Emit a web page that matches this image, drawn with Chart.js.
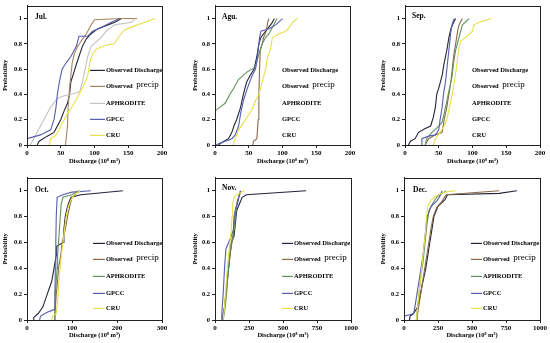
<!DOCTYPE html>
<html>
<head>
<meta charset="utf-8">
<script src="https://cdn.jsdelivr.net/npm/chart.js@4.4.1/dist/chart.umd.min.js"></script>
<style>
html,body{margin:0;padding:0;background:#fff;}
body{width:550px;height:343px;position:relative;overflow:hidden;}
.p{position:absolute;}
</style>
</head>
<body>
<div class="p" style="left:0;top:0;width:170px;height:170px"><canvas id="c1" width="170" height="170"></canvas></div>
<div class="p" style="left:183px;top:0;width:177px;height:170px"><canvas id="c2" width="177" height="170"></canvas></div>
<div class="p" style="left:368px;top:0;width:182px;height:170px"><canvas id="c3" width="182" height="170"></canvas></div>
<div class="p" style="left:0;top:172px;width:170px;height:171px"><canvas id="c4" width="170" height="171"></canvas></div>
<div class="p" style="left:183px;top:172px;width:178px;height:171px"><canvas id="c5" width="178" height="171"></canvas></div>
<div class="p" style="left:368px;top:172px;width:182px;height:171px"><canvas id="c6" width="182" height="171"></canvas></div>
<script>
// ---- Data: [discharge, cumulative probability] ----
const SERIES_NAMES = ["Observed Discharge", "Observed precip", "APHRODITE", "GPCC", "CRU"];
const MONTHS = ["Jul.", "Agu.", "Sep.", "Oct.", "Nov.", "Dec."];
const X_TITLE = "Discharge (10\u2078 m\u00B3)";
const Y_TITLE = "Probability";
const Y_TICKS = [0, 0.2, 0.4, 0.6, 0.8, 1];
const X_MAX = [200, 200, 200, 300, 1000, 1000];
const X_STEP = [50, 50, 50, 100, 250, 250];

const julDischarge = [[15,0],[18,0.03],[30,0.07],[40,0.1],[45,0.15],[50,0.2],[55,0.27],[60,0.33],[63,0.4],[65,0.5],[68,0.55],[72,0.62],[77,0.7],[82,0.78],[88,0.84],[95,0.88],[105,0.92],[120,0.95],[130,0.97],[140,1]];
const julPrecip = [[57,0],[58,0.05],[60,0.15],[61,0.3],[63,0.45],[65,0.55],[67,0.65],[70,0.72],[75,0.78],[80,0.82],[88,0.88],[95,0.95],[100,0.99],[140,1],[163,1]];
const julAphro = [[5,0],[15,0.1],[25,0.2],[35,0.3],[45,0.37],[55,0.39],[65,0.4],[78,0.42],[82,0.5],[86,0.6],[90,0.7],[95,0.78],[110,0.85],[117,0.9],[130,0.95],[155,0.97],[160,1]];
const julGpcc = [[0,0.05],[20,0.08],[35,0.12],[40,0.2],[43,0.3],[45,0.4],[48,0.5],[52,0.6],[58,0.65],[65,0.7],[73,0.78],[77,0.86],[90,0.86],[97,0.9],[110,0.93],[125,0.97],[138,1]];
const julCru = [[33,0],[35,0.05],[43,0.08],[50,0.15],[60,0.25],[70,0.33],[77,0.4],[85,0.48],[90,0.55],[93,0.65],[97,0.72],[103,0.76],[118,0.79],[129,0.8],[138,0.87],[145,0.91],[158,0.94],[175,0.97],[190,1]];

const augDischarge = [[5,0],[10,0.02],[20,0.05],[25,0.1],[28,0.15],[32,0.2],[38,0.3],[42,0.4],[47,0.5],[52,0.55],[58,0.6],[62,0.7],[65,0.8],[68,0.85],[72,0.88],[78,0.92],[85,0.97],[88,1]];
const augPrecip = [[56,0],[57,0.03],[62,0.05],[64,0.2],[65,0.4],[66,0.6],[67,0.75],[70,0.8],[72,0.85],[76,0.9],[78,0.97],[80,1]];
const augAphro = [[0,0],[0,0.27],[5,0.29],[15,0.33],[22,0.4],[28,0.45],[35,0.52],[42,0.55],[48,0.58],[55,0.6],[60,0.62],[65,0.72],[70,0.8],[75,0.85],[80,0.88],[87,0.95],[92,1]];
const augGpcc = [[0,0],[15,0.03],[25,0.05],[30,0.08],[35,0.15],[38,0.25],[42,0.35],[48,0.45],[55,0.55],[60,0.6],[63,0.7],[66,0.85],[68,0.9],[80,0.92],[90,0.95],[100,1]];
const augCru = [[27,0],[30,0.05],[35,0.12],[45,0.2],[55,0.28],[60,0.35],[65,0.4],[70,0.5],[75,0.6],[78,0.7],[82,0.75],[85,0.85],[95,0.88],[105,0.9],[110,0.93],[115,0.97],[122,1]];

const sepDischarge = [[5,0],[8,0.03],[15,0.05],[20,0.1],[30,0.13],[38,0.15],[42,0.22],[45,0.3],[47,0.4],[50,0.45],[55,0.55],[58,0.65],[62,0.75],[65,0.85],[68,0.92],[72,0.97],[75,1]];
const sepPrecip = [[30,0],[35,0.05],[45,0.08],[55,0.1],[58,0.2],[62,0.3],[65,0.4],[68,0.5],[70,0.6],[72,0.7],[75,0.8],[78,0.9],[80,0.95],[85,1]];
const sepAphro = [[30,0],[32,0.05],[40,0.1],[50,0.15],[55,0.18],[58,0.25],[62,0.35],[66,0.45],[70,0.55],[72,0.65],[75,0.75],[80,0.85],[85,0.95],[95,1]];
const sepGpcc = [[25,0],[25,0.05],[35,0.07],[45,0.08],[50,0.12],[52,0.2],[55,0.3],[57,0.4],[60,0.5],[62,0.6],[64,0.7],[66,0.8],[68,0.9],[70,0.96],[73,1]];
const sepCru = [[42,0],[45,0.05],[52,0.1],[58,0.15],[62,0.2],[66,0.3],[70,0.4],[73,0.5],[76,0.6],[78,0.7],[82,0.82],[90,0.85],[100,0.9],[102,0.95],[110,0.97],[128,1]];

const octDischarge = [[15,0],[15,0.02],[25,0.05],[35,0.1],[40,0.15],[45,0.2],[50,0.25],[55,0.3],[60,0.4],[65,0.5],[66,0.57],[80,0.6],[82,0.7],[85,0.8],[88,0.85],[92,0.9],[98,0.95],[120,0.97],[213,1]];
const octPrecip = [[60,0],[62,0.05],[63,0.1],[65,0.2],[68,0.3],[70,0.4],[75,0.5],[78,0.6],[85,0.7],[90,0.8],[95,0.88],[100,0.95],[110,0.98],[118,1]];
const octAphro = [[60,0],[62,0.1],[63,0.2],[65,0.3],[67,0.4],[68,0.5],[70,0.6],[72,0.7],[74,0.8],[76,0.9],[80,0.95],[100,0.97],[115,1]];
const octGpcc = [[28,0],[30,0.03],[45,0.06],[60,0.08],[62,0.2],[63,0.4],[64,0.6],[65,0.8],[67,0.95],[80,0.97],[100,0.99],[142,1]];
const octCru = [[55,0],[57,0.03],[65,0.05],[68,0.15],[70,0.25],[72,0.35],[75,0.45],[78,0.55],[82,0.65],[85,0.75],[88,0.82],[92,0.88],[98,0.93],[105,0.97],[118,1]];

const novDischarge = [[55,0],[60,0.05],[70,0.1],[80,0.2],[90,0.3],[100,0.4],[110,0.5],[120,0.6],[140,0.65],[150,0.75],[160,0.85],[180,0.9],[200,0.95],[230,0.97],[670,1]];
const novPrecip = [[60,0],[70,0.1],[80,0.2],[95,0.35],[110,0.5],[125,0.6],[135,0.65],[140,0.75],[150,0.85],[165,0.92],[180,0.97],[190,1]];
const novAphro = [[60,0],[75,0.1],[85,0.2],[95,0.35],[105,0.5],[120,0.6],[130,0.65],[140,0.7],[150,0.8],[160,0.9],[175,0.95],[185,1]];
const novGpcc = [[45,0],[50,0.05],[60,0.2],[70,0.4],[80,0.55],[100,0.6],[120,0.65],[135,0.7],[140,0.8],[150,0.85],[165,0.9],[175,0.95],[190,1]];
const novCru = [[60,0],[70,0.1],[80,0.25],[90,0.4],[100,0.5],[110,0.6],[120,0.7],[125,0.8],[130,0.9],[140,0.95],[160,0.97],[215,1]];

const decDischarge = [[40,0],[45,0.03],[70,0.05],[100,0.1],[120,0.2],[140,0.3],[160,0.4],[175,0.5],[190,0.6],[205,0.7],[220,0.8],[250,0.88],[300,0.93],[320,0.97],[700,0.98],[830,1]];
const decPrecip = [[95,0],[100,0.05],[115,0.15],[130,0.25],[145,0.35],[160,0.45],[175,0.55],[190,0.65],[200,0.72],[215,0.8],[240,0.87],[280,0.92],[310,0.97],[700,1]];
const decAphro = [[90,0],[95,0.05],[105,0.15],[115,0.25],[125,0.35],[140,0.45],[150,0.55],[160,0.65],[170,0.75],[185,0.85],[210,0.9],[240,0.95],[280,0.98],[310,1]];
const decGpcc = [[0,0.03],[40,0.04],[70,0.05],[80,0.1],[95,0.2],[110,0.3],[125,0.4],[140,0.5],[150,0.6],[160,0.7],[170,0.8],[200,0.88],[240,0.92],[260,0.95],[280,1]];
const decCru = [[90,0],[100,0.1],[110,0.2],[120,0.3],[130,0.4],[140,0.5],[150,0.6],[160,0.7],[165,0.8],[175,0.88],[200,0.93],[250,0.97],[300,0.99],[380,1]];

const PANEL_DATA = [
  [julDischarge, julPrecip, julAphro, julGpcc, julCru],
  [augDischarge, augPrecip, augAphro, augGpcc, augCru],
  [sepDischarge, sepPrecip, sepAphro, sepGpcc, sepCru],
  [octDischarge, octPrecip, octAphro, octGpcc, octCru],
  [novDischarge, novPrecip, novAphro, novGpcc, novCru],
  [decDischarge, decPrecip, decAphro, decGpcc, decCru]
];

// ---- Styles ----
const COLORS_DEFAULT = ["#23263a", "#8a6a48", "#5f9460", "#5a5db0", "#e6e04a"];
const COLORS_JUL = ["#23263a", "#a8855f", "#c4c4c4", "#5a5db0", "#e6e04a"];
const SERIF = "'Liberation Serif','Times New Roman',serif";

const LAYOUT = [
  {id:"c1", yw:27, pr:8, pt:4, xh:25, ytp:1, xtp:5, legX:79, lineX:[63,78], legRows:[64,80,97,113,129], label:[8,11]},
  {id:"c2", yw:32, pr:10, pt:4, xh:25, ytp:8, xtp:5, legX:67, lineX:null, legRows:[64,80,97,113,129], label:[7,11]},
  {id:"c3", yw:37, pr:10, pt:4, xh:25, ytp:11, xtp:5, legX:67, lineX:null, legRows:[64,80,97,113,129], label:[7,10]},
  {id:"c4", yw:27, pr:8, pt:5, xh:23, ytp:1, xtp:4, legX:79, lineX:[66,78], legRows:[65,81,98,115,130], label:[8,12]},
  {id:"c5", yw:32, pr:10, pt:5, xh:23, ytp:8, xtp:4, legX:79, lineX:[67,78], legRows:[65,81,98,115,130], label:[7,10]},
  {id:"c6", yw:36, pr:10, pt:5, xh:23, ytp:11, xtp:4, legX:79, lineX:[67,78], legRows:[65,81,98,115,130], label:[9,12]}
];

const framePlugin = {
  id: "frameAndLegend",
  afterDraw(chart, args, opts) {
    const {ctx, chartArea: a} = chart;
    ctx.save();
    ctx.strokeStyle = "#222";
    ctx.lineWidth = 1;
    ctx.strokeRect(Math.round(a.left) + 0.5, Math.round(a.top) + 0.5, Math.round(a.right - a.left), Math.round(a.bottom - a.top));
    // month label
    ctx.fillStyle = "#000";
    ctx.textBaseline = "middle";
    ctx.textAlign = "left";
    ctx.font = "bold 7.5px " + SERIF;
    ctx.fillText(opts.month, a.left + opts.label[0], a.top + opts.label[1]);
    // legend
    SERIES_NAMES.forEach((name, i) => {
      const y = a.top + opts.legRows[i];
      if (opts.lineX) {
        ctx.strokeStyle = opts.colors[i];
        ctx.lineWidth = 1.2;
        ctx.beginPath();
        ctx.moveTo(a.left + opts.lineX[0], y + 0.5);
        ctx.lineTo(a.left + opts.lineX[1], y + 0.5);
        ctx.stroke();
      }
      ctx.fillStyle = "#000";
      if (i === 1) {
        ctx.font = "bold 6.5px " + SERIF;
        ctx.fillText("Observed", a.left + opts.legX, y);
        const w = ctx.measureText("Observed ").width;
        ctx.font = "9px " + SERIF;
        ctx.fillText("precip", a.left + opts.legX + w + 2, y - 1);
      } else {
        ctx.font = "bold 6.5px " + SERIF;
        ctx.fillText(name, a.left + opts.legX, y);
      }
    });
    ctx.restore();
  }
};

PANEL_DATA.forEach((series, k) => {
  const L = LAYOUT[k];
  const colors = k === 0 ? COLORS_JUL : COLORS_DEFAULT;
  const datasets = series.map((pts, i) => ({
    label: SERIES_NAMES[i],
    data: pts.map(p => ({x: p[0], y: p[1]})),
    borderColor: colors[i],
    borderWidth: 1.1,
    pointRadius: 0,
    tension: 0,
    fill: false
  })).reverse();
  new Chart(document.getElementById(L.id), {
    type: "line",
    data: {datasets},
    plugins: [framePlugin],
    options: {
      responsive: false,
      animation: false,
      devicePixelRatio: 1,
      layout: {padding: {top: L.pt, right: L.pr, left: 0, bottom: 0}},
      plugins: {
        legend: {display: false},
        tooltip: {enabled: false},
        frameAndLegend: {month: MONTHS[k], colors, legX: L.legX, lineX: L.lineX, legRows: L.legRows, label: L.label}
      },
      scales: {
        x: {
          type: "linear", min: 0, max: X_MAX[k],
          ticks: {stepSize: X_STEP[k], color: "#000", padding: 1, maxRotation: 0, font: {family: SERIF, size: 7, weight: "bold"}, callback: v => String(v)},
          grid: {display: true, drawOnChartArea: false, drawTicks: true, tickLength: 3, color: "#222"},
          border: {display: true, color: "#222"},
          title: {display: true, text: X_TITLE, color: "#000", font: {family: SERIF, size: 6.5, weight: "bold"}, padding: {top: 0, bottom: L.xtp}},
          afterFit: s => { s.height = L.xh; }
        },
        y: {
          type: "linear", min: 0, max: 1.1,
          afterBuildTicks: s => { s.ticks = Y_TICKS.map(v => ({value: v})); },
          ticks: {color: "#000", padding: 2, font: {family: SERIF, size: 6.5, weight: "bold"}, callback: v => String(+Number(v).toFixed(1))},
          grid: {display: true, drawOnChartArea: false, drawTicks: true, tickLength: 3, color: "#222"},
          border: {display: true, color: "#222"},
          title: {display: true, text: Y_TITLE, color: "#000", font: {family: SERIF, size: 6.5, weight: "bold"}, padding: {top: L.ytp, bottom: 0}},
          afterFit: s => { s.width = L.yw; }
        }
      }
    }
  });
});
</script>
</body>
</html>
